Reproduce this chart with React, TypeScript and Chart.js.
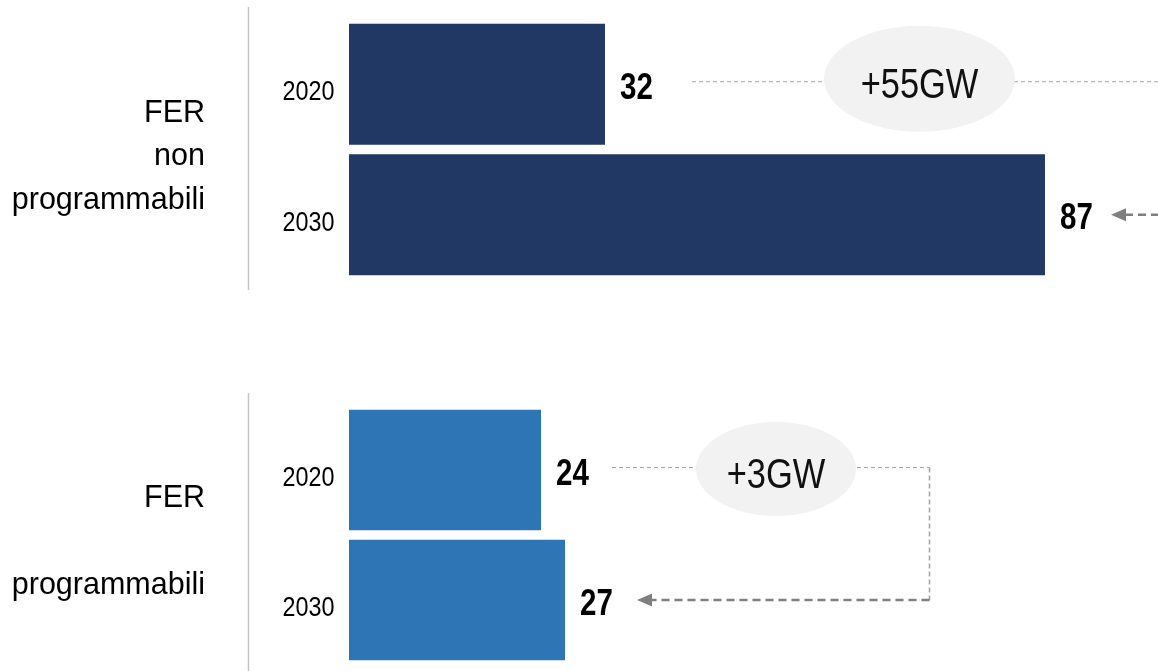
import React, { useEffect, useRef } from "react";
import { Chart, registerables } from "chart.js";

Chart.register(...registerables);

// ---- data ----
const years = ["2020", "2030"];
const nonProgrammabili = [32, 87];
const programmabili = [24, 27];
const groupNonProg = ["FER", "non", "programmabili"];
const groupProg = ["FER", "", "programmabili"];
const unit = "GW";

const FONT = "'Liberation Sans', Arial, sans-serif";

type Ann = {
  lineStart: number;
  bendX: number;
  tipOffset: number;
  ellipseX: number;
  ellipseDy: number;
  rx: number;
  ry: number;
};

type Props = {
  values: number[];
  color: string;
  groupLines: string[];
  padTop: number;
  padBottom: number;
  ann: Ann;
};

function dashed(
  ctx: CanvasRenderingContext2D,
  pts: [number, number][],
  color: string,
  width: number,
  dash: number[]
) {
  ctx.save();
  ctx.strokeStyle = color;
  ctx.lineWidth = width;
  ctx.setLineDash(dash);
  ctx.beginPath();
  ctx.moveTo(pts[0][0], pts[0][1]);
  for (let i = 1; i < pts.length; i++) ctx.lineTo(pts[i][0], pts[i][1]);
  ctx.stroke();
  ctx.restore();
}

// condensed text: regular face squeezed horizontally
function narrowText(
  ctx: CanvasRenderingContext2D,
  text: string,
  x: number,
  y: number,
  font: string,
  align: CanvasTextAlign,
  sx: number,
  color: string
) {
  ctx.save();
  ctx.translate(x, y);
  ctx.scale(sx, 1);
  ctx.font = font;
  ctx.fillStyle = color;
  ctx.textAlign = align;
  ctx.textBaseline = "alphabetic";
  ctx.fillText(text, 0, 0);
  ctx.restore();
}

function GroupChart({ values, color, groupLines, padTop, padBottom, ann }: Props) {
  const ref = useRef<HTMLCanvasElement>(null);
  useEffect(() => {
    const overlay = {
      id: "overlay",
      afterDatasetsDraw(chart: any) {
        const ctx: CanvasRenderingContext2D = chart.ctx;
        const area = chart.chartArea;
        const yScale = chart.scales.y;
        const bars = chart.getDatasetMeta(0).data;
        const b0 = bars[0];
        const b1 = bars[1];

        // separator line
        ctx.save();
        ctx.strokeStyle = "#c6c6c6";
        ctx.lineWidth = 1.5;
        ctx.beginPath();
        ctx.moveTo(248.5, area.top - 12);
        ctx.lineTo(248.5, area.bottom + 10);
        ctx.stroke();
        ctx.restore();

        // year labels (from the category scale)
        (yScale.getLabels() as string[]).forEach((lab, i) => {
          const py = yScale.getPixelForValue(i);
          narrowText(ctx, lab, 334.5, py + 16, `27.5px ${FONT}`, "right", 0.85, "#000");
        });

        // group labels
        const mid = (area.top + area.bottom) / 2;
        ctx.save();
        ctx.fillStyle = "#000";
        ctx.font = `30.5px ${FONT}`;
        ctx.textAlign = "right";
        ctx.textBaseline = "alphabetic";
        groupLines.forEach((t, i) => {
          ctx.fillText(t, 205, mid + 15.5 + (i - 1) * 43.5);
        });
        ctx.restore();

        // connectors
        const yTop = b0.y - 2.5;
        const yBot = b1.y;
        const tipX = b1.x + ann.tipOffset;
        dashed(ctx, [[ann.lineStart, yTop], [ann.bendX, yTop]], "#a6a6a6", 1.2, [4, 3]);
        dashed(ctx, [[ann.bendX, yTop], [ann.bendX, yBot]], "#a6a6a6", 1.6, [5, 3]);
        dashed(ctx, [[ann.bendX, yBot], [tipX + 15, yBot]], "#7f7f7f", 2.5, [8, 5]);
        ctx.save();
        ctx.fillStyle = "#7f7f7f";
        ctx.beginPath();
        ctx.moveTo(tipX, yBot);
        ctx.lineTo(tipX + 15, yBot - 6.5);
        ctx.lineTo(tipX + 15, yBot + 6.5);
        ctx.closePath();
        ctx.fill();
        ctx.restore();

        // ellipse + delta label
        const cy = b0.y + ann.ellipseDy;
        ctx.save();
        ctx.fillStyle = "#f2f2f2";
        ctx.beginPath();
        ctx.ellipse(ann.ellipseX, cy, ann.rx, ann.ry, 0, 0, Math.PI * 2);
        ctx.fill();
        ctx.restore();
        const delta = values[1] - values[0];
        narrowText(ctx, `+${delta}${unit}`, ann.ellipseX, cy + 19, `42px ${FONT}`, "center", 0.82, "#111");

        // value labels
        bars.forEach((el: any, i: number) => {
          narrowText(ctx, String(values[i]), el.x + 15, el.y + 14.5, `bold 36px ${FONT}`, "left", 0.82, "#000");
        });
      },
    };

    const chart = new Chart(ref.current as HTMLCanvasElement, {
      type: "bar",
      data: {
        labels: years,
        datasets: [
          {
            data: values,
            backgroundColor: color,
            barPercentage: 0.926,
            categoryPercentage: 1,
          },
        ],
      },
      options: {
        indexAxis: "y",
        responsive: false,
        animation: false,
        layout: { padding: { left: 0, right: 9, top: padTop, bottom: padBottom } },
        plugins: { legend: { display: false }, tooltip: { enabled: false } },
        scales: {
          x: { display: false, min: 0, max: 100 },
          y: {
            grid: { display: false },
            border: { display: false },
            ticks: { display: false },
            afterFit: (s: any) => {
              s.width = 349;
              s.paddingTop = 0;
              s.paddingBottom = 0;
            },
          },
        },
      } as any,
      plugins: [overlay],
    });
    return () => chart.destroy();
  }, []);
  return (
    <canvas
      ref={ref}
      width={1158}
      height={671}
      style={{ position: "absolute", left: 0, top: 0, width: 1158, height: 671 }}
    />
  );
}

export default function App() {
  return (
    <div
      style={{
        position: "fixed",
        left: 0,
        top: 0,
        width: 1158,
        height: 671,
        background: "#fff",
        overflow: "hidden",
      }}
    >
      <GroupChart
        values={nonProgrammabili}
        color="#213864"
        groupLines={groupNonProg}
        padTop={19}
        padBottom={391}
        ann={{ lineStart: 692, bendX: 1185, tipOffset: 66, ellipseX: 919.5, ellipseDy: -5.5, rx: 95.5, ry: 53 }}
      />
      <GroupChart
        values={programmabili}
        color="#2E75B6"
        groupLines={groupProg}
        padTop={405}
        padBottom={6}
        ann={{ lineStart: 612, bendX: 929.5, tipOffset: 72, ellipseX: 776, ellipseDy: -1, rx: 80, ry: 47 }}
      />
    </div>
  );
}
